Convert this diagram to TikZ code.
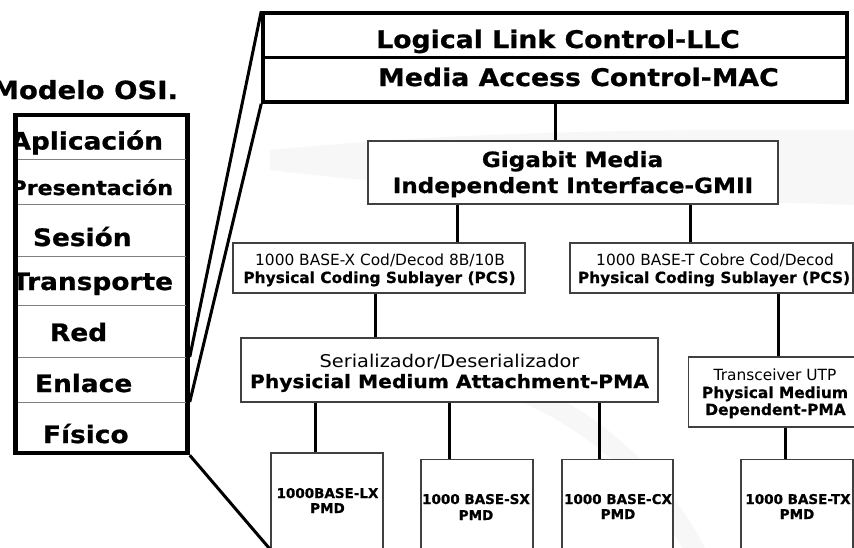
\documentclass[tikz,border=0pt]{standalone}
\usepackage{fontspec}
\setmainfont{DejaVu Sans}[BoldFeatures={FakeBold=0.6}]
\newfontfamily\widefont{DejaVu Sans}[FakeStretch=1.1,BoldFeatures={FakeBold=0.8}]
\newcommand\wbf[1]{\widefont\bfseries\fontsize{#1}{#1}\selectfont}
\newcommand\wrm[1]{\widefont\mdseries\fontsize{#1}{#1}\selectfont}
\newcommand\nbf[1]{\normalfont\bfseries\fontsize{#1}{#1}\selectfont}
\newcommand\nrm[1]{\normalfont\mdseries\fontsize{#1}{#1}\selectfont}

\begin{document}
\begin{tikzpicture}[x=1pt,y=-1pt,
  txt/.style={inner sep=0pt,outer sep=0pt,anchor=base},
  layerbox/.style={draw=black,line width=4.5pt,inner sep=0pt},
  macbox/.style={draw=black,line width=3.5pt,inner sep=0pt},
  subbox/.style={draw=black!75,fill=white,line width=1.2pt,inner sep=0pt},
  conn/.style={draw=black,line width=3pt},
  zoomline/.style={draw=black,line width=3pt},
  rowsep/.style={draw=black!50,line width=1pt},
  swoosh/.style={draw=black!3}]
\useasboundingbox (0,0) rectangle (854,547);
\fill[white] (0,0) rectangle (854,547);

% ---- faint background swooshes ----
\fill[black!3] (270,150) .. controls (500,128) and (700,130) .. (860,130)
  -- (860,205) .. controls (700,200) and (480,195) .. (270,170) -- cycle;
\draw[swoosh,line width=20pt] (450,370) .. controls (560,390) and (650,460) .. (700,560);

% ---- OSI reference model stack ----
\node[txt,anchor=base east,font=\wbf{25}] (osititle) at (178,99) {Modelo OSI.};
\node[layerbox,minimum width=172pt,minimum height=338pt] (osi) at (101.5,284) {};
\foreach \y in {159,204,256,305,357,402}
  \draw[rowsep] (17.5,\y) -- (185.5,\y);
\begin{scope}
  \clip (17.75,117.25) rectangle (185.25,450.75);
  \node[txt,anchor=base east,font=\wbf{24}] (l7) at (163,149.5) {Aplicación};
  \node[txt,anchor=base east,font=\wbf{20}] (l6) at (173,195) {Presentación};
  \node[txt,anchor=base west,font=\wbf{24}] (l5) at (33,246) {Sesión};
  \node[txt,anchor=base east,font=\wbf{24}] (l4) at (173,290) {Transporte};
  \node[txt,anchor=base west,font=\wbf{24}] (l3) at (50,341) {Red};
  \node[txt,anchor=base west,font=\wbf{24}] (l2) at (35,392) {Enlace};
  \node[txt,anchor=base west,font=\wbf{24}] (l1) at (43,443) {Físico};
\end{scope}

% ---- Data link layer: LLC / MAC ----
\node[macbox,minimum width=584pt,minimum height=89pt] (dl) at (555,57.5) {};
\draw[line width=3pt] (dl.west) -- (dl.east);
\node[txt,font=\wbf{24.3}] (llc) at (558,48) {Logical Link Control-LLC};
\node[txt,font=\wbf{24.3}] (mac) at (578.5,86) {Media Access Control-MAC};

% ---- GMII ----
\node[subbox,minimum width=410pt,minimum height=63pt] (gmii) at (573,172.5) {};
\node[txt,font=\wbf{21}] (gmiiA) at (572.5,167) {Gigabit Media};
\node[txt,font=\wbf{21}] (gmiiB) at (573,193) {Independent Interface-GMII};

% ---- PCS sublayers ----
\node[subbox,minimum width=292pt,minimum height=50pt] (pcsL) at (379,268) {};
\node[txt,font=\nrm{15.4}] (pcsLa) at (380,265) {1000 BASE-X Cod/Decod 8B/10B};
\node[txt,font=\nbf{15.4}] (pcsLb) at (379.5,283) {Physical Coding Sublayer (PCS)};
\node[subbox,minimum width=283pt,minimum height=50pt] (pcsR) at (711.5,268) {};
\node[txt,font=\nrm{15.4}] (pcsRa) at (715,265) {1000 BASE-T Cobre Cod/Decod};
\node[txt,font=\nbf{15.4}] (pcsRb) at (714,283) {Physical Coding Sublayer (PCS)};

% ---- PMA / transceiver ----
\node[subbox,minimum width=417pt,minimum height=64pt] (pma) at (449.5,370) {};
\node[txt,font=\wrm{17.6}] (pmaA) at (449.5,367) {Serializador/Deserializador};
\node[txt,font=\wbf{18.4}] (pmaB) at (449.5,388) {Physicial Medium Attachment-PMA};
\node[subbox,minimum width=171.5pt,minimum height=70pt] (utp) at (774.25,392) {};
\node[txt,font=\nrm{15.4}] (utpA) at (775,380) {Transceiver UTP};
\node[txt,font=\nbf{15.4}] (utpB) at (775,398) {Physical Medium};
\node[txt,font=\nbf{15.4}] (utpC) at (775.5,415) {Dependent-PMA};

% ---- PMD boxes ----
\node[subbox,minimum width=112pt,minimum height=96pt] (lx) at (327,501) {};
\node[txt,font=\nbf{13.5}] (lxA) at (327.5,498) {1000BASE-LX};
\node[txt,font=\nbf{13.5}] (lxB) at (327.5,513) {PMD};
\node[subbox,minimum width=112pt,minimum height=89.5pt] (sx) at (477,504.25) {};
\node[txt,font=\nbf{13.5}] (sxA) at (476,504) {1000 BASE-SX};
\node[txt,font=\nbf{13.5}] (sxB) at (476,520) {PMD};
\node[subbox,minimum width=111pt,minimum height=89.5pt] (cx) at (617.5,504.25) {};
\node[txt,font=\nbf{13.5}] (cxA) at (618,504) {1000 BASE-CX};
\node[txt,font=\nbf{13.5}] (cxB) at (618,519) {PMD};
\node[subbox,minimum width=112pt,minimum height=89.5pt] (tx) at (797,504.25) {};
\node[txt,font=\nbf{13.5}] (txA) at (798,504) {1000 BASE-TX};
\node[txt,font=\nbf{13.5}] (txB) at (797,519) {PMD};

% ---- connectors ----
\coordinate (kMac) at (555,0);
\coordinate (kPcsL) at (457,0);
\coordinate (kPcsR) at (690,0);
\coordinate (kPma) at (375,0);
\coordinate (kUtp) at (778,0);
\coordinate (kLx) at (315,0);
\coordinate (kSx) at (449,0);
\coordinate (kCx) at (599.5,0);
\coordinate (kTx) at (785,0);
\draw[conn] (kMac |- dl.south) -- (kMac |- gmii.north);
\draw[conn] (kPcsL |- gmii.south) -- (kPcsL |- pcsL.north);
\draw[conn] (kPcsR |- gmii.south) -- (kPcsR |- pcsR.north);
\draw[conn] (kPma |- pcsL.south) -- (kPma |- pma.north);
\draw[conn] (kUtp |- pcsR.south) -- (kUtp |- utp.north);
\draw[conn] (kLx |- pma.south) -- (kLx |- lx.north);
\draw[conn] (kSx |- pma.south) -- (kSx |- sx.north);
\draw[conn] (kCx |- pma.south) -- (kCx |- cx.north);
\draw[conn] (kTx |- utp.south) -- (kTx |- tx.north);

% ---- expansion lines from the OSI stack ----
\coordinate (sepRE) at (0,357);
\coordinate (sepEF) at (0,402);
\draw[zoomline] (dl.north west) -- (osi.east |- sepRE);
\draw[zoomline] (dl.south west) -- (osi.east |- sepEF);
\draw[zoomline] (osi.south east) -- (lx.south west);
\end{tikzpicture}
\end{document}
